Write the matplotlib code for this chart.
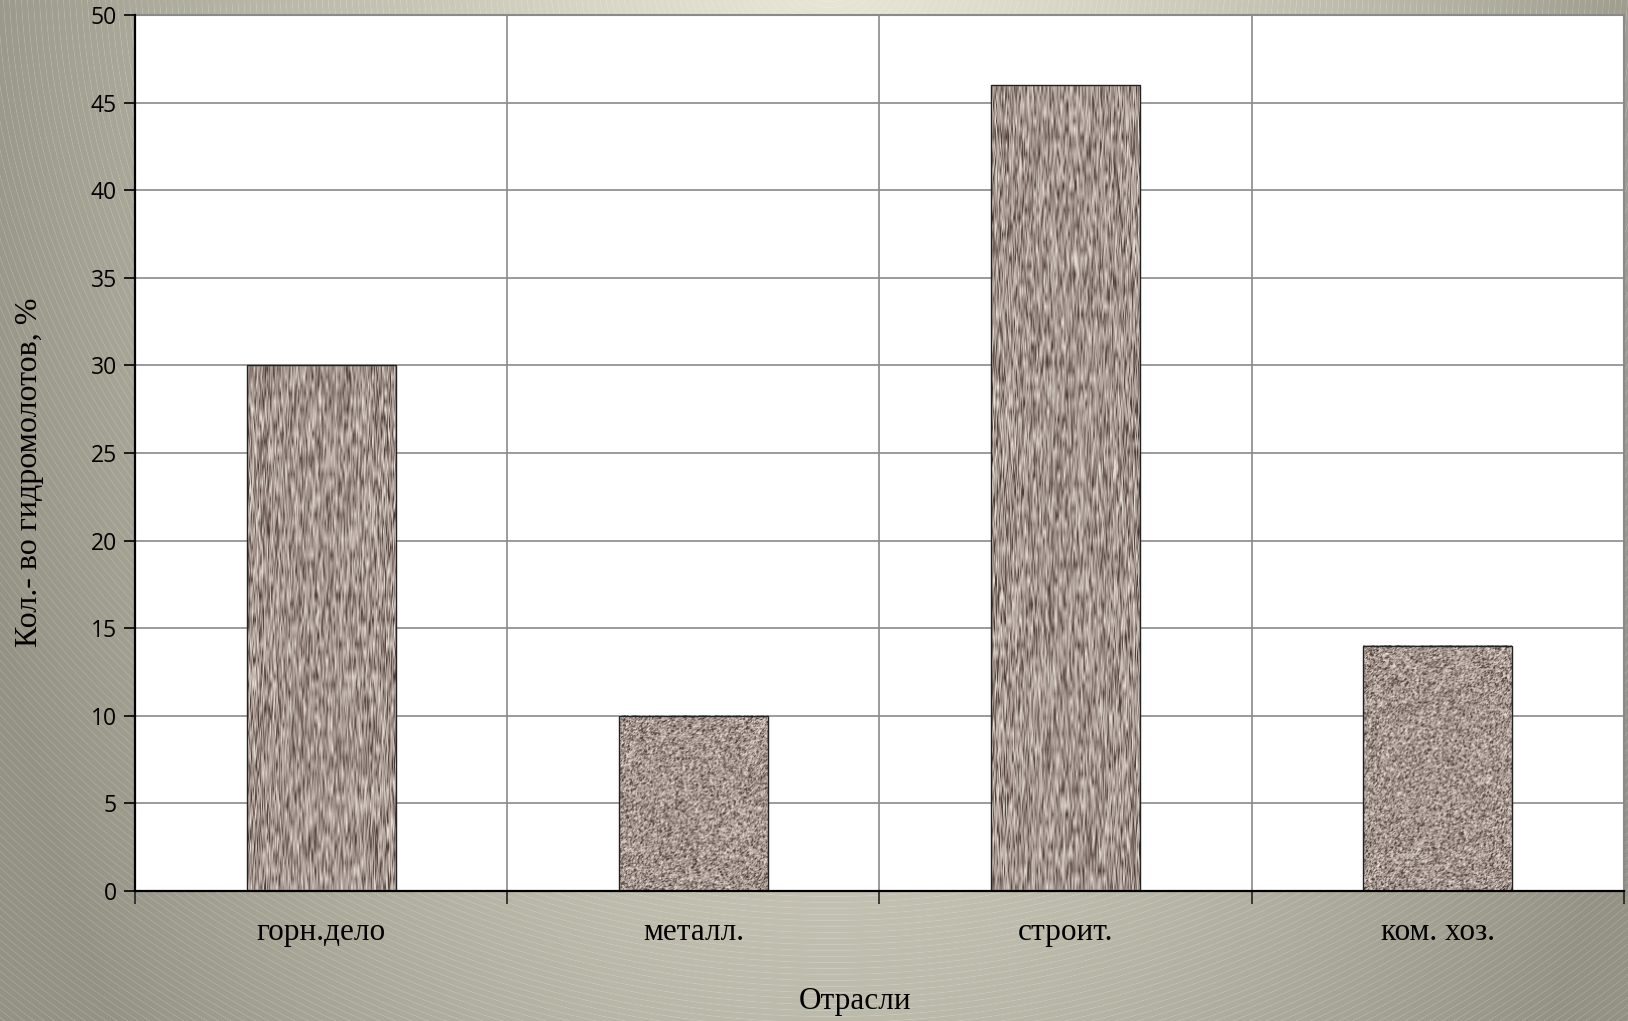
import numpy as np
import matplotlib
matplotlib.use("Agg")
import matplotlib.pyplot as plt

categories = ["горн.дело", "металл.", "строит.", "ком. хоз."]
values = [30, 10, 46, 14]
y_ticks = [0, 5, 10, 15, 20, 25, 30, 35, 40, 45, 50]
x_title = "Отрасли"
y_title = "Кол.- во гидромолотов, %"
streaked = [True, False, True, False]

W, H = 1628, 1021
fig = plt.figure(figsize=(W / 100, H / 100), dpi=100)

# slide-like background: light glow at top centre, darker sides, thin arcs
bg = fig.add_axes([0, 0, 1, 1], zorder=-10)
yy, xx = np.mgrid[0:H, 0:W].astype(float)
cx, cy = 830.0, -40.0
d = np.sqrt(((xx - cx) / 800.0) ** 2 + ((yy - cy) / 1600.0) ** 2)
t = np.clip(d / 1.12, 0, 1) ** 1.25
top = np.array([232, 229, 212]) / 255.0
dark = np.array([148, 146, 132]) / 255.0
img = top[None, None, :] * (1 - t[..., None]) + dark[None, None, :] * t[..., None]
r = np.sqrt((xx - cx) ** 2 + (yy - cy) ** 2)
ring = np.clip(np.cos(2 * np.pi * r / 6.0), 0, 1) ** 10
img = img + (1 - img) * 0.2 * ring[..., None]
bg.imshow(np.clip(img, 0, 1), extent=(0, 1, 0, 1), aspect="auto", interpolation="bilinear")
bg.set_axis_off()

ax = fig.add_axes([135 / W, 1 - 891 / H, (1624 - 135) / W, (891 - 15) / H])
ax.set_facecolor("white")

x = np.arange(len(categories))
bars = ax.bar(x, values, width=0.4, facecolor="none", edgecolor="#222222", linewidth=1.0, zorder=4)

rng = np.random.default_rng(7)
c_dark = np.array([74, 60, 54]) / 255.0
c_mid = np.array([166, 152, 144]) / 255.0
c_light = np.array([230, 221, 213]) / 255.0


def texture(h, w, streak):
    if streak:
        n = rng.normal(size=(max(h // 8, 2), w))
        n = np.repeat(n, 8, axis=0)[:h]
        k = np.ones(9) / 9
        n = np.apply_along_axis(lambda c: np.convolve(c, k, mode="same"), 0, n)
    else:
        n = rng.normal(size=(h, w))
        n = (n + np.roll(n, 1, 0) + np.roll(n, 1, 1)) / 3
    n = (n - n.mean()) / (n.std() + 1e-9)
    v = np.clip(n / 2.2, -1, 1)[..., None]
    out = np.where(v < 0, c_mid + (c_mid - c_dark) * v, c_mid + (c_light - c_mid) * v)
    return np.clip(out, 0, 1)


for b, s in zip(bars, streaked):
    x0, w, h = b.get_x(), b.get_width(), b.get_height()
    px_h = int(h / 50 * 876)
    px_w = int(w / 4 * 1489)
    ax.imshow(texture(px_h, px_w, s), extent=(x0, x0 + w, 0, h), aspect="auto",
              interpolation="bilinear", zorder=3)

ax.set_xlim(-0.5, 3.5)
ax.set_ylim(0, 50)

ax.set_yticks(y_ticks)
ax.set_yticklabels([str(v) for v in y_ticks], fontfamily="Open Sans", fontsize=16.5)
ax.tick_params(axis="y", direction="out", length=8, width=1.2, pad=5, color="black")

ax.set_xticks([-0.5, 0.5, 1.5, 2.5, 3.5])
ax.set_xticklabels([])
ax.tick_params(axis="x", direction="out", length=9, width=1.2, color="#222222")

for yv in y_ticks[1:-1]:
    ax.axhline(yv, color="#8a8a8a", linewidth=1.2, zorder=1)
for xv in [0.5, 1.5, 2.5]:
    ax.axvline(xv, color="#8a8a8a", linewidth=1.2, zorder=1)

for side in ["top", "right"]:
    ax.spines[side].set_color("#8a8a8a")
    ax.spines[side].set_linewidth(1.5)
for side in ["left", "bottom"]:
    ax.spines[side].set_color("black")
    ax.spines[side].set_linewidth(1.6)
    ax.spines[side].set_zorder(5)

serif = ["Liberation Serif", "DejaVu Serif"]
for xi, name in zip(x, categories):
    ax.text(xi, -2.8, name, ha="center", va="baseline", fontfamily=serif, fontsize=22.5,
            clip_on=False)

fig.text(855 / W, 1 - 1009 / H, x_title, ha="center", va="baseline", fontfamily=serif,
         fontsize=22.5)
fig.text(37 / W, 1 - 472 / H, y_title, ha="center", va="baseline", rotation=90,
         rotation_mode="anchor", fontfamily=serif, fontsize=23)

fig.savefig("out.png", dpi=100)
